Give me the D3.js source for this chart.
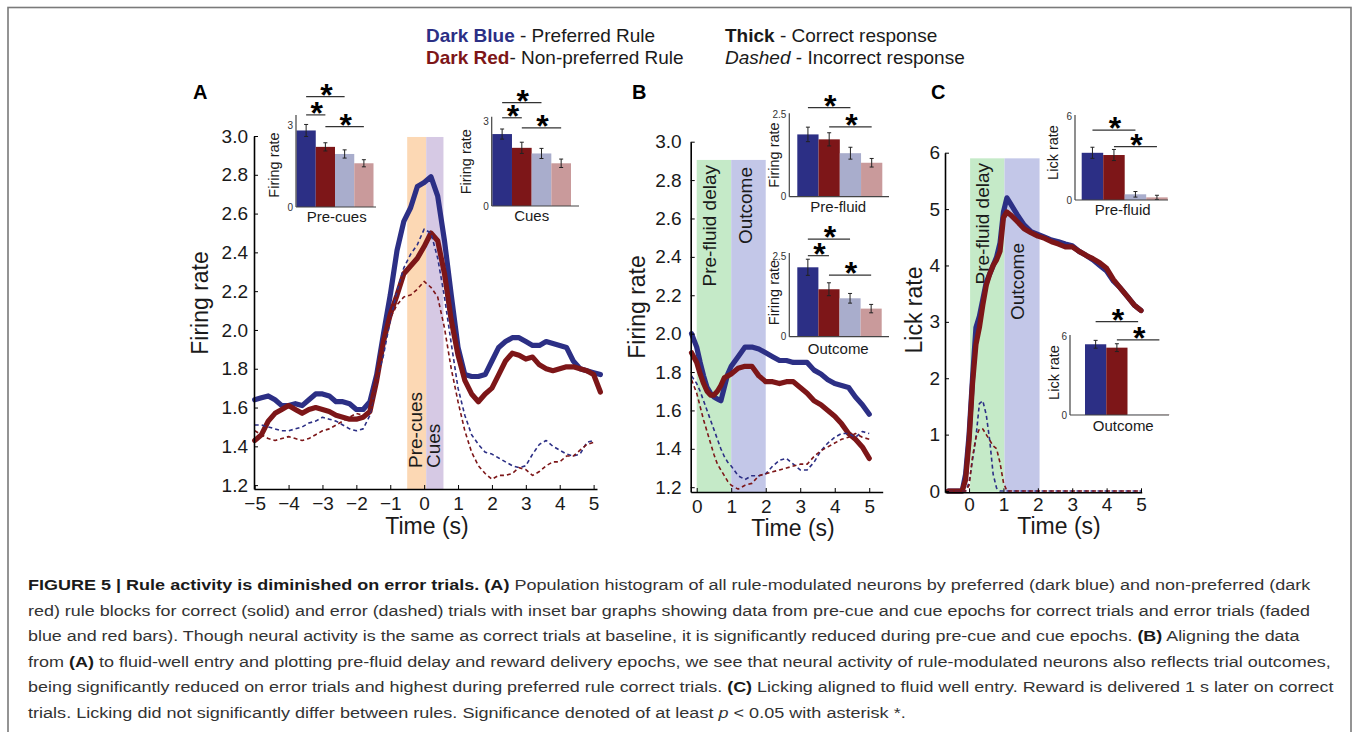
<!DOCTYPE html>
<html>
<head>
<meta charset="utf-8">
<script src="https://cdn.jsdelivr.net/npm/d3@7"></script>
<style>
  body { margin: 0; background: #fff; }
  svg { display: block; font-family: "Liberation Sans", Arial, sans-serif; }
</style>
</head>
<body>
<svg id="fig" width="1354" height="732"></svg>
<script>
// ---- data ----
var groups = ["Preferred correct", "Non-preferred correct", "Preferred error", "Non-preferred error"];

// panel A: aligned to cue onset
var timeA = [-5, -4.8, -4.6, -4.4, -4.2, -4, -3.8, -3.6, -3.4, -3.2, -3, -2.8, -2.6, -2.4, -2.2, -2, -1.8, -1.6, -1.4, -1.2,
  -1, -0.8, -0.6, -0.4, -0.2, 0, 0.2, 0.4, 0.6, 0.8, 1, 1.2, 1.4, 1.6, 1.8, 2, 2.2, 2.4, 2.6, 2.8,
  3, 3.2, 3.4, 3.6, 3.8, 4, 4.2, 4.4, 4.6, 4.8, 5, 5.2];
var prefCorrectA = [1.64, 1.65, 1.66, 1.64, 1.61, 1.61, 1.62, 1.61, 1.64, 1.67, 1.67, 1.66, 1.63, 1.63, 1.62, 1.59, 1.59, 1.63, 1.77, 1.98,
  2.18, 2.41, 2.56, 2.63, 2.74, 2.76, 2.79, 2.69, 2.46, 2.18, 1.91, 1.77, 1.76, 1.76, 1.77, 1.84, 1.91, 1.94, 1.96, 1.96,
  1.94, 1.92, 1.92, 1.94, 1.93, 1.92, 1.91, 1.84, 1.80, 1.79, 1.78, 1.77];
var nonPrefCorrectA = [1.43, 1.46, 1.53, 1.57, 1.59, 1.61, 1.59, 1.57, 1.59, 1.60, 1.59, 1.58, 1.56, 1.55, 1.54, 1.54, 1.55, 1.58, 1.74, 1.94,
  2.08, 2.18, 2.29, 2.33, 2.37, 2.43, 2.50, 2.46, 2.29, 2.05, 1.87, 1.74, 1.67, 1.63, 1.67, 1.70, 1.77, 1.84, 1.88, 1.87,
  1.85, 1.86, 1.82, 1.80, 1.79, 1.80, 1.81, 1.81, 1.80, 1.79, 1.77, 1.68];
var prefErrorA = [1.51, 1.51, 1.50, 1.49, 1.48, 1.48, 1.49, 1.50, 1.52, 1.53, 1.55, 1.54, 1.53, 1.51, 1.49, 1.48, 1.49, 1.56, 1.74, 1.87,
  2.05, 2.20, 2.32, 2.39, 2.44, 2.52, 2.50, 2.37, 2.17, 1.93, 1.70, 1.56, 1.46, 1.41, 1.37, 1.36, 1.34, 1.32, 1.30, 1.29,
  1.30, 1.36, 1.41, 1.43, 1.40, 1.38, 1.36, 1.35, 1.36, 1.42, 1.43, null];
var nonPrefErrorA = [1.48, 1.46, 1.44, 1.43, 1.44, 1.45, 1.44, 1.43, 1.44, 1.46, 1.48, 1.49, 1.51, 1.53, 1.55, 1.57, 1.56, 1.58, 1.74, 1.93,
  2.06, 2.13, 2.17, 2.18, 2.21, 2.25, 2.22, 2.17, 2.01, 1.80, 1.63, 1.48, 1.37, 1.30, 1.26, 1.23, 1.25, 1.25, 1.26, 1.29,
  1.28, 1.25, 1.27, 1.30, 1.32, 1.32, 1.35, 1.35, 1.38, 1.41, 1.42, null];

// panel B: aligned to fluid-well entry
var timeB = [-0.15, 0, 0.1, 0.2, 0.3, 0.4, 0.5, 0.6, 0.7, 0.8, 0.9, 1, 1.2, 1.4, 1.6, 1.8, 2, 2.2, 2.4, 2.6,
  2.8, 3, 3.2, 3.4, 3.6, 3.8, 4, 4.2, 4.4, 4.6, 4.8, 5];
var prefCorrectB = [2.00, 1.93, 1.85, 1.78, 1.72, 1.69, 1.67, 1.66, 1.65, 1.72, 1.79, 1.83, 1.88, 1.93, 1.93, 1.92, 1.90, 1.88, 1.86, 1.86,
  1.85, 1.85, 1.85, 1.81, 1.79, 1.76, 1.74, 1.73, 1.72, 1.67, 1.63, 1.58];
var nonPrefCorrectB = [1.90, 1.85, 1.79, 1.74, 1.70, 1.68, 1.68, 1.70, 1.73, 1.77, 1.78, 1.79, 1.82, 1.83, 1.83, 1.78, 1.75, 1.75, 1.74, 1.75,
  1.75, 1.72, 1.69, 1.65, 1.63, 1.60, 1.57, 1.53, 1.48, 1.45, 1.41, 1.35];
var prefErrorB = [1.78, 1.74, 1.70, 1.65, 1.60, 1.55, 1.50, 1.45, 1.40, 1.36, 1.33, 1.31, 1.26, 1.24, 1.26, 1.26, 1.27, 1.31, 1.34, 1.35,
  1.32, 1.29, 1.29, 1.33, 1.39, 1.43, 1.46, 1.48, 1.48, 1.46, 1.49, 1.48];
var nonPrefErrorB = [1.76, 1.69, 1.62, 1.55, 1.49, 1.43, 1.37, 1.32, 1.29, 1.26, 1.23, 1.21, 1.19, 1.21, 1.22, 1.26, 1.27, 1.28, 1.29, 1.30,
  1.31, 1.32, 1.32, 1.36, 1.39, 1.41, 1.43, 1.45, 1.46, 1.48, 1.46, 1.45];

// panel C: licking aligned to fluid-well entry
var timeC = [-0.6, -0.4, -0.2, -0.1, 0, 0.1, 0.2, 0.3, 0.4, 0.5, 0.6, 0.7, 0.8, 0.9, 1, 1.1, 1.2, 1.4, 1.6, 1.8,
  2, 2.2, 2.4, 2.6, 2.8, 3, 3.2, 3.4, 3.6, 3.8, 4, 4.2, 4.4, 4.6, 4.8, 5];
var prefCorrectC = [0, 0, 0, 0.3, 1.0, 2.0, 2.9, 3.1, 3.4, 3.7, 3.85, 4.0, 4.15, 4.4, 4.95, 5.2, 5.1, 4.9, 4.72, 4.6,
  4.55, 4.5, 4.45, 4.42, 4.38, 4.35, 4.25, 4.18, 4.1, 4.0, 3.9, 3.72, 3.6, 3.45, 3.3, 3.2];
var nonPrefCorrectC = [0, 0, 0, 0.2, 0.9, 1.9, 2.6, 2.9, 3.3, 3.65, 3.85, 4.0, 4.1, 4.25, 4.85, 4.95, 4.9, 4.78, 4.65, 4.58,
  4.52, 4.48, 4.42, 4.38, 4.33, 4.33, 4.25, 4.18, 4.12, 4.05, 3.95, 3.75, 3.6, 3.45, 3.3, 3.2];
var prefErrorC = [0, 0, 0, 0, 0.15, 0.55, 0.95, 1.55, 1.6, 1.35, 0.9, 0.3, 0.05, 0, 0, 0, 0, 0, 0, 0,
  0, 0, 0, 0, 0, 0, 0, 0, 0, 0, 0, 0, 0, 0, 0, 0];
var nonPrefErrorC = [0, 0, 0, 0, 0.1, 0.6, 0.95, 1.1, 1.1, 1.0, 0.9, 0.8, 0.75, 0.5, 0.15, 0, 0, 0, 0, 0,
  0, 0, 0, 0, 0, 0, 0, 0, 0, 0, 0, 0, 0, 0, 0, 0];

// epochs (s)
var epochsA = [{ name: "Pre-cues", span: [-0.5, 0.06] }, { name: "Cues", span: [0.06, 0.57] }];
var epochsB = [{ name: "Pre-fluid delay", span: [0, 1] }, { name: "Outcome", span: [1, 2] }];
var epochsC = [{ name: "Pre-fluid delay", span: [0.03, 1.03] }, { name: "Outcome", span: [1.03, 2.05] }];

// inset bar graphs (order = groups)
var preCueBars = [2.8, 2.2, 1.94, 1.6],   preCueErr = [0.22, 0.15, 0.15, 0.13];
var cueBars = [2.56, 2.07, 1.87, 1.52],   cueErr = [0.18, 0.2, 0.18, 0.15];
var preFluidRateBars = [1.89, 1.74, 1.32, 1.03], preFluidRateErr = [0.22, 0.2, 0.18, 0.13];
var outcomeRateBars = [2.15, 1.47, 1.19, 0.87],  outcomeRateErr = [0.25, 0.2, 0.15, 0.13];
var preFluidLickBars = [3.4, 3.24, 0.41, 0.19],  preFluidLickErr = [0.4, 0.4, 0.2, 0.15];
var outcomeLickBars = [5.42, 5.16, 0.02, 0.02],  outcomeLickErr = [0.3, 0.3, 0, 0];

// significance brackets: bar a vs bar b, drawn at level y (inset units)
var preCueSig = [{ a: 0, b: 2, y: 4.04 }, { a: 0, b: 1, y: 3.37 }, { a: 1, b: 3, y: 2.94 }];
var cueSig = [{ a: 0, b: 2, y: 3.68 }, { a: 0, b: 1, y: 3.14 }, { a: 1, b: 3, y: 2.78 }];
var preFluidRateSig = [{ a: 0, b: 2, y: 2.70 }, { a: 1, b: 3, y: 2.12 }];
var outcomeRateSig = [{ a: 0, b: 2, y: 3.02 }, { a: 0, b: 1, y: 2.51 }, { a: 1, b: 3, y: 1.91 }];
var preFluidLickSig = [{ a: 0, b: 2, y: 5.04 }, { a: 1, b: 3, y: 3.84 }];
var outcomeLickSig = [{ a: 0, b: 2, y: 7.15 }, { a: 1, b: 3, y: 5.75 }];

// tick labels
var ticksAx = [-5, -4, -3, -2, -1, 0, 1, 2, 3, 4, 5];
var ticksAy = [1.2, 1.4, 1.6, 1.8, 2.0, 2.2, 2.4, 2.6, 2.8, 3.0];
var ticksBx = [0, 1, 2, 3, 4, 5];
var ticksBy = [1.2, 1.4, 1.6, 1.8, 2.0, 2.2, 2.4, 2.6, 2.8, 3.0];
var ticksCx = [0, 1, 2, 3, 4, 5];
var ticksCy = [0, 1, 2, 3, 4, 5, 6];

// ---- styles ----
var BLUE = "#2c2f85", RED = "#7d1618", LBLUE = "#a9adcc", PINK = "#c99a9b";
var barColors = [BLUE, RED, LBLUE, PINK];
var INK = "#1a1a1a";

var svg = d3.select("#fig");

// frame
svg.append("rect").attr("x", 8).attr("y", 7.5).attr("width", 1343).attr("height", 760)
  .attr("fill", "none").attr("stroke", "#7a7a7a").attr("stroke-width", 1.6);

// header legend
function legendLine(x, y, parts) {
  var t = svg.append("text").attr("x", x).attr("y", y).attr("font-size", 19).attr("fill", INK);
  parts.forEach(function (p) {
    var s = t.append("tspan").text(p.t);
    if (p.bold) s.attr("font-weight", "bold");
    if (p.italic) s.attr("font-style", "italic");
    if (p.color) s.attr("fill", p.color);
  });
}
legendLine(426, 42, [{ t: "Dark Blue", bold: true, color: BLUE }, { t: " - Preferred Rule" }]);
legendLine(426, 64, [{ t: "Dark Red", bold: true, color: RED }, { t: "- Non-preferred Rule" }]);
legendLine(725, 42, [{ t: "Thick", bold: true }, { t: " - Correct response" }]);
legendLine(725, 64, [{ t: "Dashed", italic: true }, { t: " - Incorrect response" }]);

// ---- main time-course panels ----
function drawMain(p) {
  var g = svg.append("g");
  var x = d3.scaleLinear().domain(p.xDomain).range(p.xRange);
  var y = d3.scaleLinear().domain(p.yDomain).range(p.yRange);
  var y0 = p.yRange[0];

  p.epochs.forEach(function (e, i) {
    g.append("rect")
      .attr("x", x(e.span[0])).attr("width", x(e.span[1]) - x(e.span[0]))
      .attr("y", y(p.bandTop)).attr("height", y0 - y(p.bandTop))
      .attr("fill", p.bandColors[i]);
    var L = p.bandLabels[i];
    g.append("text")
      .attr("transform", "translate(" + L.x + "," + L.y + ") rotate(-90)")
      .attr("text-anchor", L.anchor).attr("font-size", 19).attr("fill", INK)
      .text(e.name);
  });

  var line = d3.line()
    .defined(function (d) { return d[1] !== null; })
    .x(function (d) { return x(d[0]); })
    .y(function (d) { return y(d[1]); });

  p.series.forEach(function (s) {
    g.append("path")
      .datum(p.time.map(function (t, i) { return [t, s.values[i]]; }))
      .attr("d", line)
      .attr("fill", "none")
      .attr("stroke", s.color)
      .attr("stroke-width", s.dashed ? 1.6 : 5.2)
      .attr("stroke-dasharray", s.dashed ? "4,3" : null)
      .attr("stroke-linejoin", "round")
      .attr("stroke-linecap", s.dashed ? "butt" : "round");
  });

  var ax = g.append("g").attr("transform", "translate(0," + y0 + ")")
    .call(d3.axisBottom(x).tickValues(p.xTicks).tickSizeInner(-4).tickSizeOuter(0).tickPadding(p.xPad)
      .tickFormat(function (d) { return d < 0 ? "\u2212" + Math.abs(d) : d; }));
  var ay = g.append("g").attr("transform", "translate(" + p.xRange[0] + ",0)")
    .call(d3.axisLeft(y).tickValues(p.yTicks).tickSizeInner(-4).tickSizeOuter(0).tickPadding(p.yPad)
      .tickFormat(p.yFormat));
  [ax, ay].forEach(function (a) {
    a.attr("font-size", 19).attr("font-family", null);
    a.selectAll("text").attr("fill", INK);
    a.select(".domain").attr("stroke", "#000").attr("stroke-width", 1.6);
    a.selectAll(".tick line").attr("stroke", "#000");
  });

  g.append("text").attr("x", p.xTitle[0]).attr("y", p.xTitle[1]).attr("text-anchor", "middle")
    .attr("font-size", 23).attr("fill", INK).text("Time (s)");
  g.append("text")
    .attr("transform", "translate(" + p.yTitle[0] + "," + p.yTitle[1] + ") rotate(-90)")
    .attr("text-anchor", "middle").attr("font-size", 23).attr("fill", INK).text(p.yLabel);
  svg.append("text").attr("x", p.letter[0]).attr("y", p.letter[1]).attr("font-size", 20)
    .attr("font-weight", "bold").attr("fill", "#000").text(p.name);
}

drawMain({
  name: "A", letter: [193, 99],
  time: timeA,
  xDomain: [-5.02, 5.1], xRange: [254, 597],
  yDomain: [1.18, 3.0], yRange: [489, 136],
  xTicks: ticksAx, yTicks: ticksAy, xPad: 8, yPad: 6, yFormat: d3.format(".1f"),
  epochs: epochsA, bandTop: 2.995, bandColors: ["#fcd8b4", "#d6c9e4"],
  bandLabels: [{ x: 421.5, y: 468, anchor: "start" }, { x: 440, y: 468, anchor: "start" }],
  series: [
    { values: prefCorrectA, color: BLUE }, { values: nonPrefCorrectA, color: RED },
    { values: prefErrorA, color: BLUE, dashed: true }, { values: nonPrefErrorA, color: RED, dashed: true }
  ],
  xTitle: [427, 534], yTitle: [208, 303], yLabel: "Firing rate"
});

drawMain({
  name: "B", letter: [632, 99],
  time: timeB,
  xDomain: [-0.174, 5.39], xRange: [690.7, 882.7],
  yDomain: [1.175, 3.0], yRange: [492, 141.7],
  xTicks: ticksBx, yTicks: ticksBy, xPad: 8, yPad: 9, yFormat: d3.format(".1f"),
  epochs: epochsB, bandTop: 2.905, bandColors: ["#c5eac8", "#c3c7e8"],
  bandLabels: [{ x: 715.5, y: 165, anchor: "end" }, { x: 751.5, y: 167, anchor: "end" }],
  series: [
    { values: prefCorrectB, color: BLUE }, { values: nonPrefCorrectB, color: RED },
    { values: prefErrorB, color: BLUE, dashed: true }, { values: nonPrefErrorB, color: RED, dashed: true }
  ],
  xTitle: [793, 536], yTitle: [645, 307], yLabel: "Firing rate"
});

drawMain({
  name: "C", letter: [931, 99],
  time: timeC,
  xDomain: [-0.7, 5.02], xRange: [945, 1141.7],
  yDomain: [-0.023, 6], yRange: [492.3, 152.7],
  xTicks: ticksCx, yTicks: ticksCy, xPad: 5, yPad: 5, yFormat: d3.format("d"),
  epochs: epochsC, bandTop: 5.9, bandColors: ["#c5eac8", "#c3c7e8"],
  bandLabels: [{ x: 988.5, y: 163, anchor: "end" }, { x: 1024, y: 243, anchor: "end" }],
  series: [
    { values: prefCorrectC, color: BLUE }, { values: nonPrefCorrectC, color: RED },
    { values: prefErrorC, color: BLUE, dashed: true }, { values: nonPrefErrorC, color: RED, dashed: true }
  ],
  xTitle: [1059, 534], yTitle: [922, 310], yLabel: "Lick rate"
});

// ---- inset bar graphs ----
function drawInset(p) {
  var g = svg.append("g");
  var x = d3.scaleBand().domain(groups).range(p.band).padding(0);
  var y = d3.scaleLinear().domain([0, p.tick]).range([p.base, p.tickY]);
  var bw = x.bandwidth();

  g.selectAll("rect.bar").data(p.values).enter().append("rect")
    .attr("x", function (d, i) { return x(groups[i]); })
    .attr("y", function (d) { return y(d); })
    .attr("width", bw)
    .attr("height", function (d) { return p.base - y(d); })
    .attr("fill", function (d, i) { return barColors[i]; });

  p.values.forEach(function (v, i) {
    var e = p.err[i];
    if (!e) return;
    var cx = x(groups[i]) + bw / 2;
    var eg = g.append("g").attr("stroke", "#222").attr("stroke-width", 1);
    eg.append("line").attr("x1", cx).attr("x2", cx).attr("y1", y(v - e)).attr("y2", y(v + e));
    eg.append("line").attr("x1", cx - 2).attr("x2", cx + 2).attr("y1", y(v - e)).attr("y2", y(v - e));
    eg.append("line").attr("x1", cx - 2).attr("x2", cx + 2).attr("y1", y(v + e)).attr("y2", y(v + e));
  });

  // axes
  g.append("line").attr("x1", p.left).attr("x2", p.left).attr("y1", p.base).attr("y2", p.topY)
    .attr("stroke", "#444").attr("stroke-width", 1.2);
  g.append("line").attr("x1", p.left).attr("x2", p.axisEnd).attr("y1", p.base).attr("y2", p.base)
    .attr("stroke", "#444").attr("stroke-width", 1.2);
  [0, p.tick].forEach(function (t) {
    g.append("text").attr("x", p.left - 3).attr("y", y(t) + 3.5).attr("text-anchor", "end")
      .attr("font-size", 10).attr("fill", "#333").text(t);
  });

  // brackets with asterisks sitting on top
  p.sig.forEach(function (s) {
    var xa = x(groups[s.a]) + bw / 2, xb = x(groups[s.b]) + bw / 2, ys = y(s.y);
    g.append("line").attr("x1", xa).attr("x2", xb).attr("y1", ys).attr("y2", ys)
      .attr("stroke", "#333").attr("stroke-width", 1.2);
    g.append("text").attr("x", (xa + xb) / 2 + 1).attr("y", ys + 9).attr("text-anchor", "middle")
      .attr("font-size", 32).attr("font-weight", "bold").attr("fill", "#000").text("*");
  });

  g.append("text")
    .attr("transform", "translate(" + p.ylabelPos[0] + "," + p.ylabelPos[1] + ") rotate(-90)")
    .attr("text-anchor", "middle").attr("font-size", 14.5).attr("fill", INK).text(p.ylabel);
  g.append("text").attr("x", p.titlePos[0]).attr("y", p.titlePos[1]).attr("text-anchor", "middle")
    .attr("font-size", 15).attr("fill", INK).text(p.title);
}

drawInset({ values: preCueBars, err: preCueErr, sig: preCueSig, left: 296, band: [296.5, 373.5], axisEnd: 376,
  base: 207, tick: 3, tickY: 125, topY: 115, ylabel: "Firing rate", ylabelPos: [279, 165], title: "Pre-cues", titlePos: [336.7, 221.5] });
drawInset({ values: cueBars, err: cueErr, sig: cueSig, left: 491.7, band: [492.3, 571], axisEnd: 579,
  base: 206, tick: 3, tickY: 121.7, topY: 116.7, ylabel: "Firing rate", ylabelPos: [471, 161.7], title: "Cues", titlePos: [531.7, 221] });
drawInset({ values: preFluidRateBars, err: preFluidRateErr, sig: preFluidRateSig, left: 789.3, band: [797.3, 882.3], axisEnd: 889,
  base: 196.7, tick: 2.5, tickY: 114.3, topY: 113.3, ylabel: "Firing rate", ylabelPos: [779, 155], title: "Pre-fluid", titlePos: [838.3, 212] });
drawInset({ values: outcomeRateBars, err: outcomeRateErr, sig: outcomeRateSig, left: 789.3, band: [797.3, 881.7], axisEnd: 889,
  base: 336.7, tick: 2.5, tickY: 256, topY: 253, ylabel: "Firing rate", ylabelPos: [779, 292.5], title: "Outcome", titlePos: [838.3, 353.5] });
drawInset({ values: preFluidLickBars, err: preFluidLickErr, sig: preFluidLickSig, left: 1075, band: [1081.7, 1167.7], axisEnd: 1168,
  base: 200, tick: 6, tickY: 116.7, topY: 115, ylabel: "Lick rate", ylabelPos: [1057.5, 152.5], title: "Pre-fluid", titlePos: [1122.7, 214.5] });
drawInset({ values: outcomeLickBars, err: outcomeLickErr, sig: outcomeLickSig, left: 1070, band: [1085, 1170], axisEnd: 1169,
  base: 415, tick: 6, tickY: 336.7, topY: 335, ylabel: "Lick rate", ylabelPos: [1059, 372.5], title: "Outcome", titlePos: [1123.3, 431] });

// ---- caption ----
var captionLines = [
  [{ t: "FIGURE 5 | Rule activity is diminished on error trials. (A)", b: 1 }, { t: " Population histogram of all rule-modulated neurons by preferred (dark blue) and non-preferred (dark" }],
  [{ t: "red) rule blocks for correct (solid) and error (dashed) trials with inset bar graphs showing data from pre-cue and cue epochs for correct trials and error trials (faded" }],
  [{ t: "blue and red bars). Though neural activity is the same as correct trials at baseline, it is significantly reduced during pre-cue and cue epochs. " }, { t: "(B)", b: 1 }, { t: " Aligning the data" }],
  [{ t: "from " }, { t: "(A)", b: 1 }, { t: " to fluid-well entry and plotting pre-fluid delay and reward delivery epochs, we see that neural activity of rule-modulated neurons also reflects trial outcomes," }],
  [{ t: "being significantly reduced on error trials and highest during preferred rule correct trials. " }, { t: "(C)", b: 1 }, { t: " Licking aligned to fluid well entry. Reward is delivered 1 s later on correct" }],
  [{ t: "trials. Licking did not significantly differ between rules. Significance denoted of at least " }, { t: "p", i: 1 }, { t: " < 0.05 with asterisk *." }]
];
var captionRight = [1311, 1311, 1300, 1331, 1334, 906];

captionLines.forEach(function (parts, k) {
  var t = svg.append("text").attr("x", 0).attr("y", 0).attr("font-size", 15.5).attr("fill", "#333")
    .attr("xml:space", "preserve");
  parts.forEach(function (p) {
    var s = t.append("tspan").text(p.t);
    if (p.b) s.attr("font-weight", "bold").attr("fill", "#1a1a1a");
    if (p.i) s.attr("font-style", "italic");
  });
  var w = t.node().getComputedTextLength();
  var sx = (captionRight[k] - 28) / w;
  t.attr("transform", "translate(28," + (590 + k * 25.6) + ") scale(" + sx + ",1)");
});
</script>
</body>
</html>
